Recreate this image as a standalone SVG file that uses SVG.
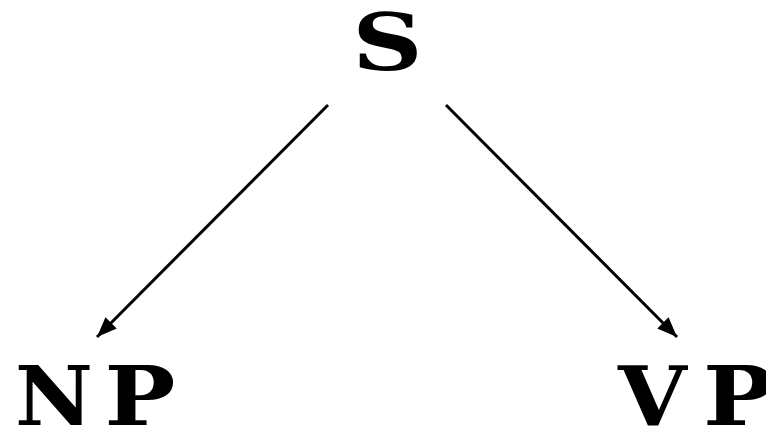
<svg xmlns="http://www.w3.org/2000/svg" width="766" height="430" viewBox="0 0 766 430">
<style>
.lbl{font-family:"DejaVu Serif","Liberation Serif",serif;font-weight:bold;fill:#000;font-size:82px}
.edge{stroke:#000;stroke-width:3;fill:none}
</style>
<defs>
<marker id="arr" viewBox="0 0 20 16" refX="20" refY="8" markerWidth="20" markerHeight="16" orient="auto" markerUnits="userSpaceOnUse">
<path d="M0,0 L20,8 L0,16 z" fill="#000"/>
</marker>
</defs>
<rect width="766" height="430" fill="#fff"/>
<g id="edges">
<line class="edge" x1="328" y1="105" x2="97" y2="337" marker-end="url(#arr)"/>
<line class="edge" x1="446" y1="105" x2="677" y2="337" marker-end="url(#arr)"/>
</g>
<g id="S"><text class="lbl" transform="translate(387.5,70) scale(1.25,1)" style="font-size:78px" x="0" y="0" text-anchor="middle">S</text></g>
<g id="NP">
<text class="lbl" transform="translate(15,425) scale(1.04,1)" x="0" y="0">N</text>
<text class="lbl" transform="translate(104.5,425) scale(1.15,1)" x="0" y="0">P</text>
</g>
<g id="VP">
<text class="lbl" transform="translate(618,425) scale(1.08,1)" x="0" y="0">V</text>
<text class="lbl" transform="translate(703,425) scale(1.15,1)" x="0" y="0">P</text>
</g>
</svg>
